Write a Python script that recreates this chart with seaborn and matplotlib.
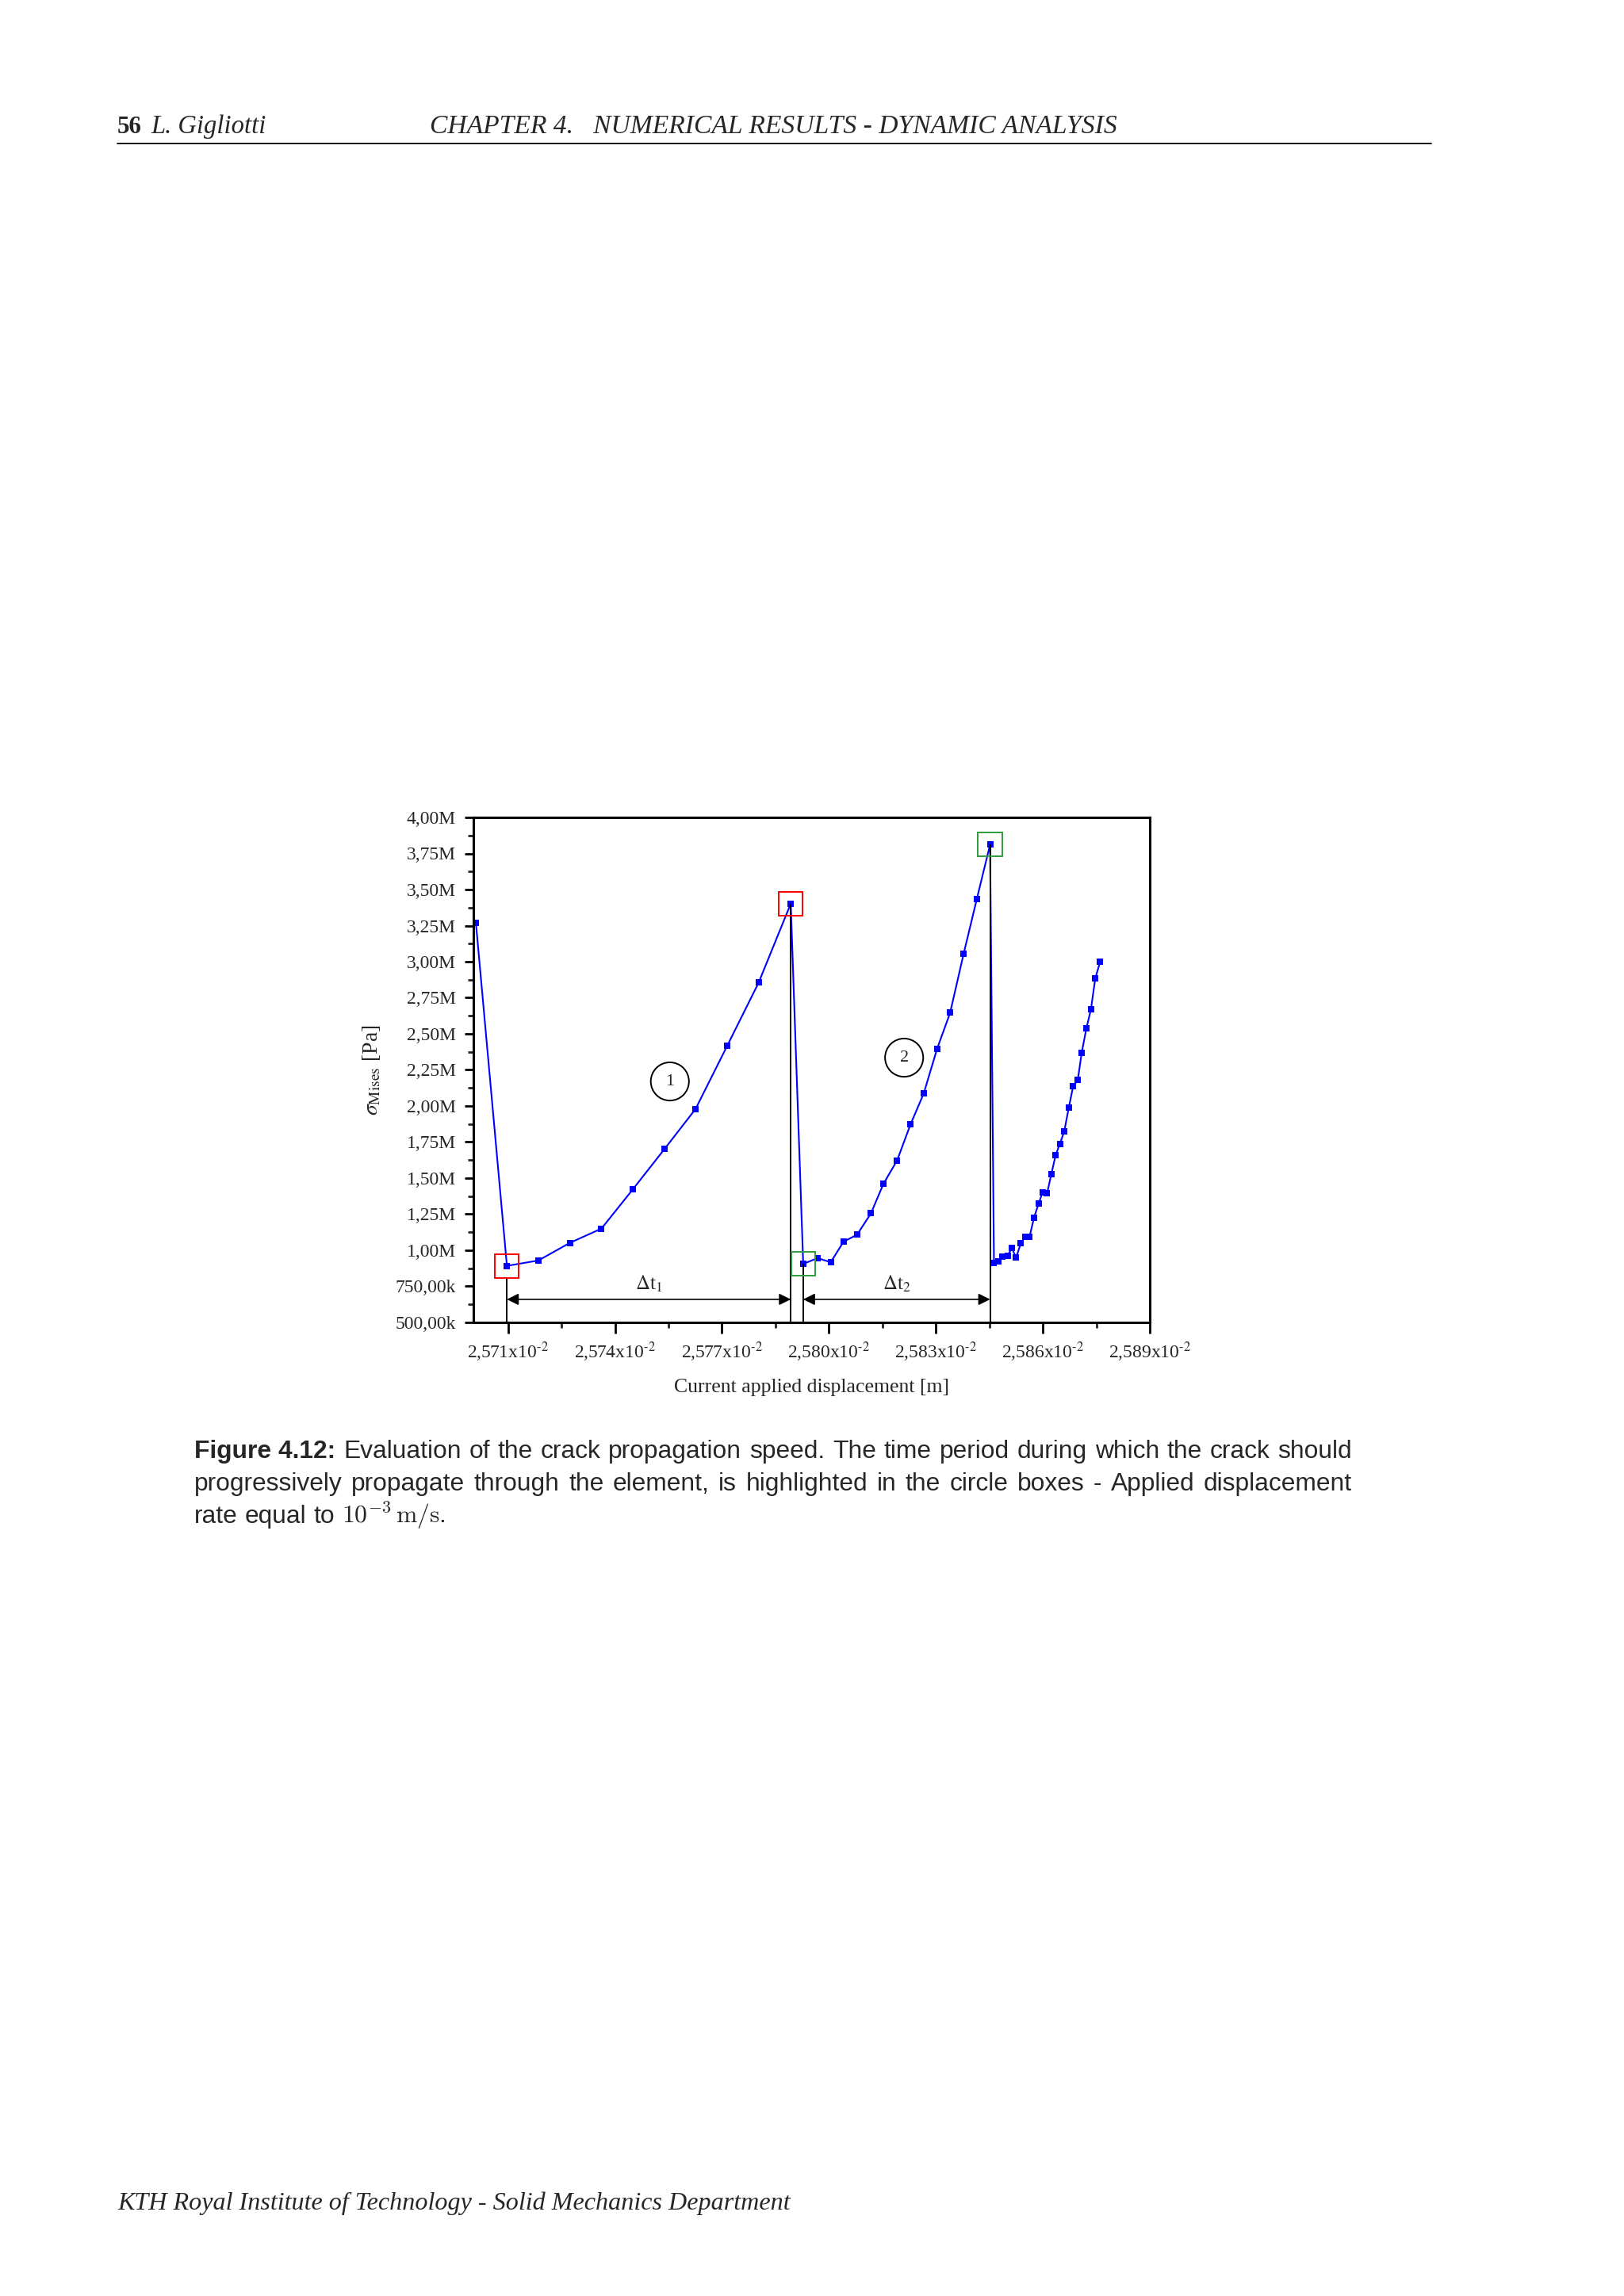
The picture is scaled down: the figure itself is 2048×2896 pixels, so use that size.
import numpy as np
import pandas as pd
import matplotlib

matplotlib.use('Agg')

import matplotlib.pyplot as plt
import seaborn as sns
from matplotlib.patches import Rectangle, Ellipse
from matplotlib.lines import Line2D
from matplotlib.ticker import FixedLocator, FuncFormatter

# ============================================================
# Data (displacement in 1e-2 m, stress in MPa)
# ============================================================

disp = [
    2.57010, 2.57097, 2.57185, 2.57274, 2.57362, 2.57451, 2.57539,
    2.57626, 2.57715, 2.57803, 2.57893,
    2.57928, 2.57968, 2.58005, 2.58041, 2.58079, 2.58118, 2.58153,
    2.58191, 2.58229, 2.58266, 2.58303, 2.58340, 2.58378, 2.58415,
    2.58452,
    2.58463, 2.58475, 2.58486, 2.58501, 2.58513, 2.58525, 2.58538,
    2.58551, 2.58563, 2.58575, 2.58588, 2.58599, 2.58612, 2.58624,
    2.58636, 2.58648, 2.58660, 2.58673, 2.58685, 2.58698, 2.58709,
    2.58722, 2.58735, 2.58747, 2.58761,
]

stress_mpa = [
    3.270, 0.892, 0.929, 1.052, 1.150, 1.425, 1.702,
    1.979, 2.418, 2.855, 3.402,
    0.905, 0.946, 0.917, 1.059, 1.108, 1.256, 1.461,
    1.621, 1.873, 2.087, 2.393, 2.646, 3.056, 3.436,
    3.811,
    0.910, 0.922, 0.954, 0.961, 1.015, 0.949, 1.047,
    1.096, 1.096, 1.224, 1.322, 1.400, 1.395, 1.530,
    1.660, 1.739, 1.824, 1.991, 2.136, 2.180, 2.369,
    2.536, 2.671, 2.884, 3.002,
]

# indices of the highlighted points: (start, end) of each propagation window
window_1 = (1, 10)
window_2 = (11, 25)

x_major = [2.571, 2.574, 2.577, 2.580, 2.583, 2.586, 2.589]
y_major = [0.5e6 + 0.25e6 * i for i in range(15)]

caption_1 = ("Evaluation of the crack propagation speed.  The time period "
             "during which the crack should")
caption_2 = ("progressively propagate through the element, is highlighted "
             "in the circle boxes - Applied displacement")
caption_3 = "rate equal to"

df = pd.DataFrame({"disp": disp, "stress": np.array(stress_mpa) * 1e6})

# ============================================================
# Page setup
# ============================================================

W, H = 2048, 2896

sns.set_style("ticks")
plt.rcParams['font.family'] = ['Liberation Serif', 'DejaVu Serif']
plt.rcParams['mathtext.fontset'] = 'stix'

fig = plt.figure(figsize=(W / 100, H / 100), dpi=100, facecolor='white')
renderer = fig.canvas.get_renderer()


def fx(x):
    return x / W


def fy(y):
    return 1 - y / H


def fit_text(x0, x1, y, s, **kw):
    # scale the font so the string spans x0..x1 pixels
    t = fig.text(fx(x0), fy(y), s, fontsize=20, va='baseline', ha='left', **kw)
    bb = t.get_window_extent(renderer)
    t.set_fontsize(20 * (x1 - x0) / bb.width)
    return t


def justify(tokens, x0, x1, y, size, stretch=True):
    texts = []
    for s, kw in tokens:
        texts.append(fig.text(0, fy(y), s, fontsize=size, va='baseline',
                              ha='left', **kw))
    widths = [t.get_window_extent(renderer).width for t in texts]
    if stretch:
        gap = (x1 - x0 - sum(widths)) / (len(texts) - 1)
    else:
        gap = size * 100 / 72 * 0.28
    x = x0
    for t, w in zip(texts, widths):
        t.set_x(fx(x))
        x += w + gap


# ============================================================
# Header / footer
# ============================================================

fit_text(148, 179, 168, "56", fontweight='bold')
fit_text(190, 335, 168, "L. Gigliotti", style='italic')
fit_text(542, 1410, 168, "CHAPTER 4.   NUMERICAL RESULTS - DYNAMIC ANALYSIS",
         style='italic')
fig.add_artist(Line2D([fx(148), fx(1805)], [fy(181), fy(181)],
                      color='black', lw=1.3))

fit_text(148, 997, 2787,
         "KTH Royal Institute of Technology - Solid Mechanics Department",
         style='italic')

# ============================================================
# Chart
# ============================================================

ax = fig.add_axes([fx(597), fy(1668), (1450 - 597) / W, (1668 - 1031) / H])

sns.lineplot(
    data=df,
    x="disp",
    y="stress",
    sort=False,
    estimator=None,
    color='#0000ff',
    linewidth=1.5,
    marker='s',
    markersize=6,
    markeredgewidth=0,
    ax=ax
)

ax.set_xlim(2.57003, 2.589)
ax.set_ylim(0.5e6, 4.0e6)

ax.xaxis.set_major_locator(FixedLocator(x_major))
ax.xaxis.set_minor_locator(FixedLocator([v + 0.0015 for v in x_major[:-1]]))
ax.yaxis.set_major_locator(FixedLocator(y_major))
ax.yaxis.set_minor_locator(FixedLocator([v + 0.125e6 for v in y_major[:-1]]))

ax.xaxis.set_major_formatter(FuncFormatter(
    lambda v, p: f"{v:.3f}".replace('.', ',') + r"x10$^{\text{-}2}$"))
ax.yaxis.set_major_formatter(FuncFormatter(
    lambda v, p: (f"{v / 1e6:.2f}M" if v >= 1e6 else f"{v / 1e3:.2f}k").replace('.', ',')))

ax.tick_params(axis='both', which='major', direction='out', width=2,
               labelsize=17, color='black')
ax.tick_params(axis='x', which='major', length=10, pad=6)
ax.tick_params(axis='y', which='major', length=8, pad=8)
ax.tick_params(axis='both', which='minor', direction='out', width=2, length=5)

for sp in ax.spines.values():
    sp.set_visible(True)
    sp.set_linewidth(2.2)
    sp.set_color('black')

ax.set_xlabel("Current applied displacement [m]", fontsize=18.5, labelpad=14)
ax.set_ylabel(r"$\sigma_{\mathrm{Mises}}$ [Pa]", fontsize=20, labelpad=12)

# highlight boxes, vertical markers and time windows
bw, bh = 0.00067, 0.165e6
box_pts = [(window_1[0], 'red'), (window_1[1], 'red'),
           (window_2[0], '#2f9a3c'), (window_2[1], '#2f9a3c')]
for i, c in box_pts:
    ax.add_patch(Rectangle((disp[i] - bw / 2, df.stress[i] - bh / 2), bw, bh,
                           fill=False, edgecolor=c, lw=1.4, zorder=4))

ax.vlines([disp[window_1[0]]], 0.5e6, df.stress[window_1[0]] - bh / 2,
          color='black', lw=1.4)
for i in [window_1[1], window_2[0], window_2[1]]:
    ax.vlines([disp[i]], 0.5e6, df.stress[i], color='black', lw=1.4)

arrow_y = 0.66e6
for k, (a, b) in enumerate([window_1, window_2], start=1):
    ax.annotate("", xy=(disp[b], arrow_y), xytext=(disp[a], arrow_y),
                arrowprops=dict(arrowstyle='<|-|>', color='black', lw=1.2,
                                mutation_scale=22, shrinkA=0, shrinkB=0))
    ax.text((disp[a] + disp[b]) / 2, 0.77e6, r"$\Delta$t$_{%d}$" % k,
            fontsize=18, ha='center', va='center')

for label, cx, cy in [("1", 2.57554, 2.17e6), ("2", 2.58211, 2.335e6)]:
    ax.add_patch(Ellipse((cx, cy), 0.00107, 0.265e6, fill=False,
                         edgecolor='black', lw=1.4))
    ax.text(cx, cy, label, fontsize=16, ha='center', va='center')

# ============================================================
# Caption
# ============================================================

sans = dict(family=['Liberation Sans', 'DejaVu Sans'])

# size the caption from the width of "Figure 4.12:" on the page,
# a little smaller so the justified lines keep normal word gaps
probe = fig.text(0, 0, "Figure 4.12:", fontsize=20, fontweight='bold', **sans)
cap_size = 0.94 * 20 * 189 / probe.get_window_extent(renderer).width
probe.remove()

tokens_1 = [("Figure 4.12:", dict(fontweight='bold', **sans))]
tokens_1 += [(w, sans) for w in caption_1.split()]
justify(tokens_1, 245, 1705, 1839, cap_size)

justify([(w, sans) for w in caption_2.split()], 245, 1705, 1880, cap_size)

tokens_3 = [(w, sans) for w in caption_3.split()]
tokens_3 += [(r"$10^{-3}\,\mathrm{m/s}$" + ".", dict(math_fontfamily='cm', **sans))]
justify(tokens_3, 245, 1705, 1921, cap_size, stretch=False)

fig.savefig("out.png", dpi=100, facecolor='white')
